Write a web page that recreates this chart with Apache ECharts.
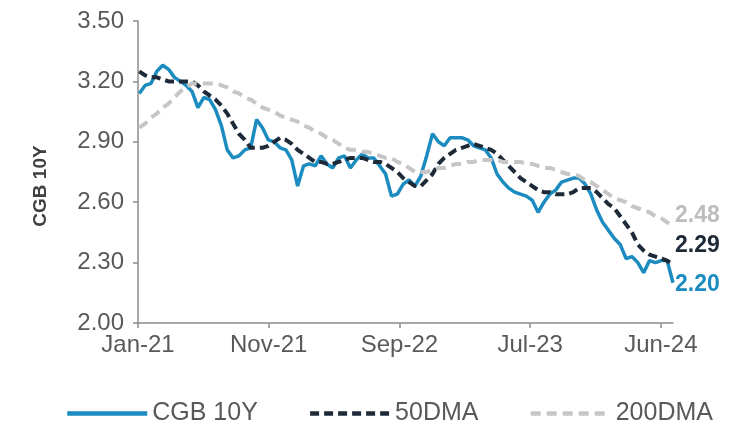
<!DOCTYPE html>
<html>
<head>
<meta charset="utf-8">
<script src="https://cdn.jsdelivr.net/npm/echarts@6/dist/echarts.min.js"></script>
<style>
  html, body { margin: 0; padding: 0; background: #ffffff; }
  #chart { width: 747px; height: 437px; }
</style>
</head>
<body>
<div id="chart"></div>
<script>
const startDate = '2021-01-04';
const stepDays = 14;

const cgb10y = [
  3.14, 3.18, 3.19, 3.25, 3.28, 3.26, 3.22, 3.20, 3.18, 3.15,
  3.07, 3.12, 3.11, 3.06, 2.98, 2.86, 2.82, 2.83, 2.86, 2.87,
  3.01, 2.97, 2.91, 2.90, 2.87, 2.86, 2.81, 2.68, 2.78, 2.79,
  2.78, 2.83, 2.79, 2.77, 2.82, 2.83, 2.77, 2.81, 2.84, 2.82,
  2.82, 2.78, 2.74, 2.63, 2.64, 2.69, 2.71, 2.68, 2.73, 2.83,
  2.94, 2.90, 2.88, 2.92, 2.92, 2.92, 2.91, 2.88, 2.87, 2.86,
  2.82, 2.74, 2.70, 2.67, 2.65, 2.64, 2.63, 2.61, 2.55, 2.60,
  2.64, 2.66, 2.70, 2.71, 2.72, 2.72, 2.69, 2.64, 2.56, 2.50,
  2.46, 2.42, 2.39, 2.32, 2.33, 2.30, 2.25, 2.31, 2.30, 2.31,
  2.31, 2.20
];

const dma50 = [
  3.25, 3.23, 3.22, 3.22, 3.21, 3.20, 3.20, 3.20, 3.20, 3.20,
  3.18, 3.15, 3.13, 3.11, 3.08, 3.04, 2.99, 2.94, 2.91, 2.87,
  2.87, 2.87, 2.88, 2.90, 2.92, 2.91, 2.89, 2.86, 2.84, 2.82,
  2.80, 2.80, 2.79, 2.79, 2.80, 2.81, 2.82, 2.82, 2.82, 2.81,
  2.80, 2.80, 2.79, 2.77, 2.75, 2.72, 2.70, 2.68, 2.68, 2.71,
  2.74, 2.79, 2.82, 2.84, 2.86, 2.87, 2.88, 2.89, 2.88, 2.87,
  2.86, 2.84, 2.81, 2.78, 2.75, 2.72, 2.70, 2.68, 2.66, 2.65,
  2.65, 2.64, 2.64, 2.64, 2.65, 2.67, 2.67, 2.67, 2.65, 2.62,
  2.59, 2.57, 2.53, 2.49, 2.45, 2.39, 2.36, 2.34, 2.33, 2.32,
  2.31, 2.29
];

const dma200 = [
  2.97, 2.99, 3.02, 3.04, 3.07, 3.09, 3.12, 3.15, 3.17, 3.19,
  3.19, 3.19, 3.19, 3.19, 3.18, 3.17, 3.15, 3.14, 3.12, 3.11,
  3.09, 3.07, 3.06, 3.05, 3.03, 3.02, 3.01, 3.00, 2.98, 2.97,
  2.95, 2.94, 2.92, 2.91, 2.89, 2.87, 2.86, 2.86, 2.85, 2.85,
  2.84, 2.83, 2.82, 2.82, 2.80, 2.79, 2.77, 2.75, 2.75, 2.75,
  2.76, 2.77, 2.77, 2.78, 2.79, 2.79, 2.80, 2.80, 2.81, 2.81,
  2.81, 2.81, 2.80, 2.80, 2.80, 2.80, 2.79, 2.79, 2.78, 2.77,
  2.77, 2.76, 2.75, 2.74, 2.74, 2.73, 2.71, 2.70, 2.68, 2.66,
  2.64, 2.62, 2.61, 2.60, 2.58, 2.57, 2.56, 2.55, 2.53, 2.52,
  2.50, 2.48
];

const seriesNames = ['CGB 10Y', '50DMA', '200DMA'];
const yTickLabels = ['2.00', '2.30', '2.60', '2.90', '3.20', '3.50'];
// x axis measured in days from axisOrigin; labelled ticks every 312 days
const axisOrigin = '2021-01-01';
const xTickStepDays = 312;
const xMaxDays = 1277;
const monthNames = ['Jan','Feb','Mar','Apr','May','Jun','Jul','Aug','Sep','Oct','Nov','Dec'];

const DAY = 86400000;
function ts(s) { const p = s.split('-').map(Number); return Date.UTC(p[0], p[1] - 1, p[2]); }
const origin = ts(axisOrigin);
const firstDay = (ts(startDate) - origin) / DAY;
const pairs = arr => arr.map((v, i) => [firstDay + i * stepDays, v]);

const FONT = 'Liberation Sans, Arial, sans-serif';
const C_BLUE = '#1B8BC0', C_DARK = '#1E2A38', C_GREY = '#C6C6C6', C_TEXT = '#595959', C_AXIS = '#8C8C8C';

const chart = echarts.init(document.getElementById('chart'), null, { renderer: 'canvas' });
chart.setOption({
  animation: false,
  backgroundColor: '#ffffff',
  textStyle: { fontFamily: FONT },
  grid: { left: 138, right: 74, top: 21, bottom: 114, containLabel: false },
  legend: {
    data: seriesNames,
    top: 401,
    left: 65,
    padding: 0,
    itemWidth: 80,
    itemHeight: 14,
    itemGap: 50,
    itemStyle: { opacity: 0, borderWidth: 0 },
    lineStyle: { width: 4.5 },
    textStyle: { fontSize: 25, color: C_TEXT, fontFamily: FONT }
  },
  xAxis: {
    type: 'value',
    min: 0,
    max: xMaxDays,
    interval: xTickStepDays,
    axisLine: { show: true, lineStyle: { color: C_AXIS, width: 1.5 } },
    axisTick: { show: true, length: 5, lineStyle: { color: C_AXIS, width: 1.5 } },
    axisLabel: {
      fontSize: 24, color: C_TEXT, margin: 10, fontFamily: FONT,
      showMaxLabel: false,
      formatter: v => {
        if (v > xMaxDays - 5) return '';
        const d = new Date(origin + v * DAY);
        return monthNames[d.getUTCMonth()] + '-' + String(d.getUTCFullYear()).slice(2);
      }
    },
    splitLine: { show: false }
  },
  yAxis: {
    type: 'value',
    min: 2.0, max: 3.5, interval: 0.3,
    name: 'CGB 10Y',
    nameLocation: 'middle',
    nameGap: 88,
    nameTextStyle: { fontSize: 19, fontWeight: 'bold', color: '#404040', fontFamily: FONT, padding: [0, 28, 0, 0] },
    axisLine: { show: true, lineStyle: { color: C_AXIS, width: 1.5 } },
    axisTick: { show: true, length: 5, lineStyle: { color: C_AXIS, width: 1.5 } },
    axisLabel: {
      fontSize: 24, color: C_TEXT, margin: 14, fontFamily: FONT,
      formatter: v => yTickLabels[Math.round((v - 2) / 0.3)] || v.toFixed(2)
    },
    splitLine: { show: false }
  },
  series: [
    {
      name: seriesNames[0], type: 'line', data: pairs(cgb10y), symbol: 'none',
      lineStyle: { color: C_BLUE, width: 3.5 }, itemStyle: { color: C_BLUE },
      endLabel: { show: true, formatter: p => p.value[1].toFixed(2), color: C_BLUE,
                  fontSize: 23, fontWeight: 'bold', fontFamily: FONT, distance: 2, offset: [0, 2] }
    },
    {
      name: seriesNames[1], type: 'line', data: pairs(dma50), symbol: 'none',
      lineStyle: { color: C_DARK, width: 4, type: [9, 5] }, itemStyle: { color: C_DARK },
      endLabel: { show: true, formatter: p => p.value[1].toFixed(2), color: C_DARK,
                  fontSize: 23, fontWeight: 'bold', fontFamily: FONT, distance: 2, offset: [0, -19] }
    },
    {
      name: seriesNames[2], type: 'line', data: pairs(dma200), symbol: 'none',
      lineStyle: { color: C_GREY, width: 4, type: [10, 6] }, itemStyle: { color: C_GREY },
      endLabel: { show: true, formatter: p => p.value[1].toFixed(2), color: '#BDBDBD',
                  fontSize: 23, fontWeight: 'bold', fontFamily: FONT, distance: 2, offset: [0, -11] }
    }
  ]
});
</script>
</body>
</html>
